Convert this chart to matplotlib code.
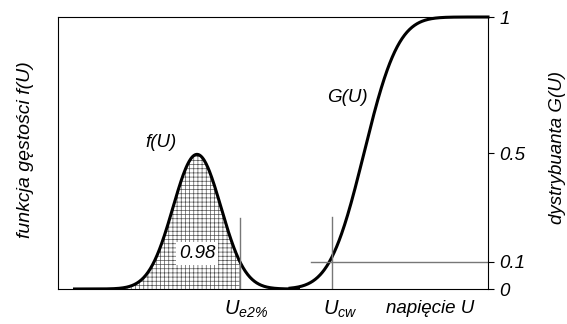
import math
import numpy as np
import matplotlib
matplotlib.use("Agg")
import matplotlib.pyplot as plt

plt.rcParams['font.family'] = ['Liberation Sans', 'DejaVu Sans']
plt.rcParams['mathtext.fontset'] = 'custom'
plt.rcParams['mathtext.rm'] = 'Liberation Sans:italic'
plt.rcParams['mathtext.it'] = 'Liberation Sans:italic'
plt.rcParams['hatch.color'] = '#555555'
plt.rcParams['hatch.linewidth'] = 0.5

# parameters (U axis in arbitrary units, 58..488)
f_mean, f_std, f_peak = 197.0, 24.0, 0.495
f_range = [73.0, 300.0]
g_mean, g_std = 364.0, 27.0
g_range = [290.0, 488.0]
u_e2 = 240.0
u_cw = 332.0
g_level = 0.1
g_line_start = 311.0
right_ticks = [0, 0.1, 0.5, 1]
right_labels = ['0', '0.1', '0.5', '1']

uf = np.linspace(f_range[0], f_range[1], 400)
f = f_peak * np.exp(-0.5 * ((uf - f_mean) / f_std) ** 2)
ug = np.linspace(g_range[0], g_range[1], 400)
g = np.array([0.5 * (1 + math.erf((u - g_mean) / (g_std * math.sqrt(2)))) for u in ug])

fs = 13.5
W, H = 567, 324

fig = plt.figure(figsize=(W/100, H/100), dpi=100)
ax = fig.add_axes([58/W, 35/H, 430/W, 272/H])
ax.set_xlim(58, 488)
ax.set_ylim(0, 1)

# hatched area under f up to U_e2%
mask = uf <= u_e2
ax.fill_between(uf[mask], 0, f[mask], facecolor='white', edgecolor='#555555',
                hatch='++++', linewidth=0)
ax.plot(uf, f, color='black', lw=2.2, solid_capstyle='butt')
ax.plot(ug, g, color='black', lw=2.2, clip_on=False)

# reference lines
ax.plot([u_e2, u_e2], [0, 0.26], color='#777777', lw=1)
ax.plot([u_cw, u_cw], [0, 0.265], color='#777777', lw=1)
ax.plot([g_line_start, 488], [g_level, g_level], color='#777777', lw=1)

ax.text(f_mean, 0.13, '0.98', ha='center', va='center', fontsize=fs, style='italic',
        bbox=dict(facecolor='white', edgecolor='none', pad=2))
ax.text(161, 0.54, 'f(U)', ha='center', va='center', fontsize=fs, style='italic')
ax.text(347, 0.705, 'G(U)', ha='center', va='center', fontsize=fs, style='italic')

ax.set_xticks([])
ax.yaxis.tick_right()
ax.set_yticks(right_ticks)
ax.set_yticklabels(right_labels, fontsize=fs, style='italic')
ax.tick_params(axis='y', length=4, width=0.8, pad=4)
for s in ax.spines.values():
    s.set_linewidth(0.8)

ax.text(246, -0.075, r'$U_{e2\%}$', transform=ax.get_xaxis_transform(),
        ha='center', va='center', fontsize=14.5)
ax.text(340, -0.075, r'$U_{cw}$', transform=ax.get_xaxis_transform(),
        ha='center', va='center', fontsize=14.5)
ax.text(430, -0.072, 'napięcie U', transform=ax.get_xaxis_transform(),
        ha='center', va='center', fontsize=fs, style='italic')

fig.text(26/W, 1 - 150/H, 'funkcja gęstości f(U)', rotation=90, ha='center',
         va='center', fontsize=14, style='italic')
fig.text(557/W, 1 - 147/H, 'dystrybuanta G(U)', rotation=90, ha='center',
         va='center', fontsize=fs, style='italic')

fig.savefig('out.png', dpi=100)
